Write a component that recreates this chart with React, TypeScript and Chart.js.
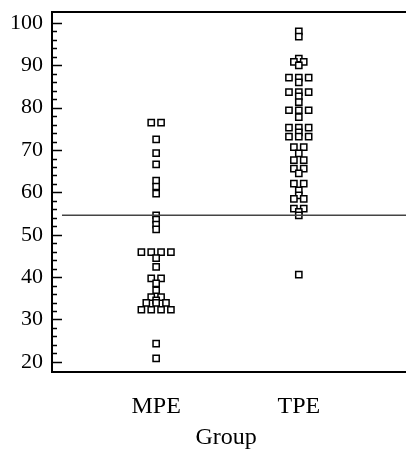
import React, { useEffect, useRef } from "react";
import { Chart, registerables } from "chart.js";

Chart.register(...registerables);

const CATEGORIES = ["MPE", "TPE"];
const MPE_VALUES = [
  76.5, 76.5, 72.5, 69.3, 66.6, 62.8, 61.4, 59.7, 54.6, 53.6, 52.4, 51.3,
  45.9, 45.9, 45.9, 45.9, 44.5, 42.4, 39.7, 39.7, 38.5, 36.9,
  35.3, 35.3, 34.5, 33.9, 33.9, 33.9, 32.3, 32.3, 32.3, 32.3, 24.3, 20.8,
];
const TPE_VALUES = [
  98.0, 96.8, 91.6, 90.8, 90.8, 90.0, 87.1, 87.1, 87.1, 86.0,
  83.7, 83.7, 83.7, 82.7, 81.3, 79.4, 79.4, 79.4, 77.8,
  75.3, 75.3, 75.3, 74.2, 73.2, 73.2, 73.2, 70.7, 70.7, 69.2,
  67.6, 67.6, 65.6, 65.6, 64.5, 62.1, 62.1, 60.5, 59.3, 58.5, 58.5,
  56.2, 56.2, 55.4, 54.6, 40.6,
];
const CUTOFF = 54.6;
const Y_TICKS = [20, 30, 40, 50, 60, 70, 80, 90, 100];

const FONT = "'Liberation Serif', 'Times New Roman', serif";

// spread points with equal values side by side (dot-plot rows)
function spread(values: number[], center: number, step: number) {
  const sorted = [...values].sort((a, b) => b - a);
  const pts: { x: number; y: number }[] = [];
  let i = 0;
  while (i < sorted.length) {
    let j = i;
    while (j < sorted.length && Math.abs(sorted[j] - sorted[i]) < 0.05) j++;
    const n = j - i;
    for (let k = 0; k < n; k++) {
      pts.push({ x: center + (k - (n - 1) / 2) * step, y: sorted[i + k] });
    }
    i = j;
  }
  return pts;
}

const framePlugin = {
  id: "frame",
  afterDatasetsDraw(chart: any) {
    const { ctx, chartArea, scales } = chart;
    const y = scales.y;
    const W = chart.width;
    ctx.save();
    ctx.strokeStyle = "#000";
    ctx.lineWidth = 2;
    ctx.beginPath();
    ctx.moveTo(W, chartArea.top);
    ctx.lineTo(chartArea.left, chartArea.top);
    ctx.lineTo(chartArea.left, chartArea.bottom);
    ctx.lineTo(W, chartArea.bottom);
    ctx.stroke();
    ctx.lineWidth = 1.5;
    ctx.beginPath();
    for (let v = 20; v <= 100; v += 2) {
      const py = Math.round(y.getPixelForValue(v)) + 0.5;
      const len = v % 10 === 0 ? 10 : 5;
      ctx.moveTo(chartArea.left, py);
      ctx.lineTo(chartArea.left + len, py);
    }
    ctx.stroke();
    ctx.strokeStyle = "#444";
    ctx.lineWidth = 1.5;
    const cy = y.getPixelForValue(CUTOFF);
    ctx.beginPath();
    ctx.moveTo(chartArea.left + 10, cy);
    ctx.lineTo(W, cy);
    ctx.stroke();
    ctx.restore();
  },
};

export default function App() {
  const ref = useRef<HTMLCanvasElement>(null);
  useEffect(() => {
    document.body.style.margin = "0";
    const step = 0.069;
    const chart = new Chart(ref.current!, {
      type: "scatter",
      data: {
        datasets: [
          { data: spread(MPE_VALUES, 1, step) },
          { data: spread(TPE_VALUES, 2, step) },
        ],
      },
      options: {
        animation: false,
        responsive: false,
        devicePixelRatio: 1,
        layout: { padding: { top: 12, right: 0, left: 0, bottom: 0 } },
        plugins: { legend: { display: false }, tooltip: { enabled: false } },
        elements: {
          point: {
            pointStyle: "rect",
            radius: 4.4,
            borderWidth: 1.5,
            borderColor: "#000",
            backgroundColor: "#fff",
          },
        },
        scales: {
          x: {
            type: "linear",
            min: 0.27,
            max: 2.71,
            afterBuildTicks: (s: any) => {
              s.ticks = [{ value: 1 }, { value: 2 }];
            },
            afterFit: (s: any) => {
              s.height = 80;
              s.paddingLeft = 0;
              s.paddingRight = 0;
            },
            grid: { display: false, drawTicks: false },
            border: { display: false },
            ticks: {
              padding: 20,
              color: "#000",
              font: { family: FONT, size: 24 },
              callback: (v: any) => CATEGORIES[Number(v) - 1] ?? "",
            },
            title: {
              display: true,
              text: "Group",
              color: "#000",
              font: { family: FONT, size: 24 },
              padding: { top: 0, bottom: 0 },
            },
          },
          y: {
            min: 17.6,
            max: 102.6,
            afterBuildTicks: (s: any) => {
              s.ticks = Y_TICKS.map((v) => ({ value: v }));
            },
            afterFit: (s: any) => {
              s.width = 52;
              s.paddingTop = 0;
              s.paddingBottom = 0;
            },
            grid: { display: false, drawTicks: false },
            border: { display: false },
            ticks: {
              padding: 9,
              color: "#000",
              font: { family: FONT, size: 22 },
            },
          },
        },
      },
      plugins: [framePlugin],
    });
    return () => chart.destroy();
  }, []);
  return (
    <div style={{ width: 406, height: 452 }}>
      <canvas ref={ref} width={406} height={452} style={{ display: "block" }} />
    </div>
  );
}
